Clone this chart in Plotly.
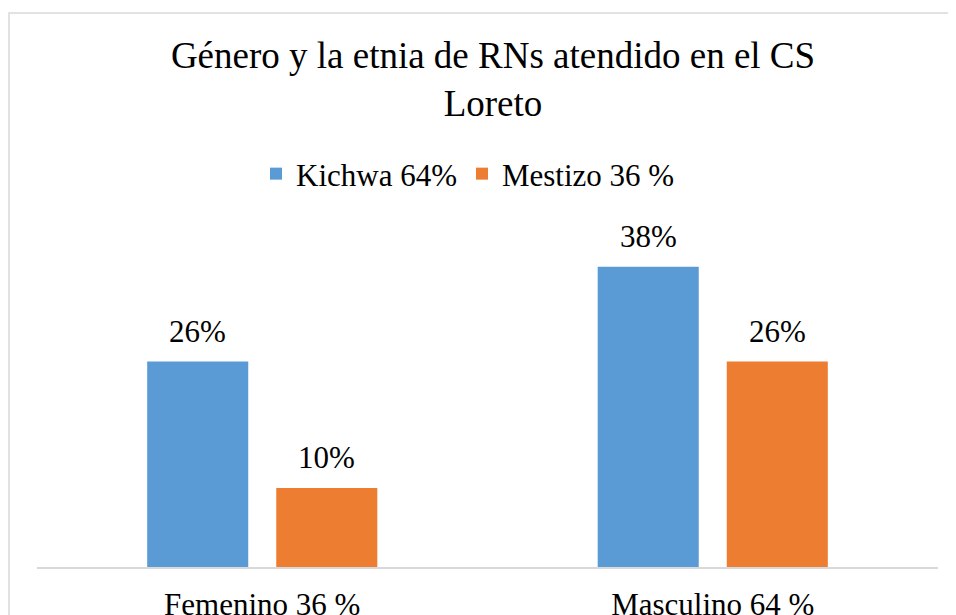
import plotly.graph_objects as go

categories = ["Femenino 36 %", "Masculino 64 %"]
series_names = ["Kichwa 64%", "Mestizo 36 %"]
kichwa = [26, 38]
mestizo = [10, 26]
colors = ["#5B9BD5", "#ED7D31"]

FONT = "Liberation Serif, Times New Roman, serif"
FS = 31

# page body has an 8px margin: work in figure coordinates
W, H = 948, 607
L, R, T, B = 29, 18, 243, 48
BARGAP, GROUPGAP = 0.427, 0.217

fig = go.Figure()
for name, vals, col in zip(series_names, [kichwa, mestizo], colors):
    fig.add_trace(go.Bar(
        x=categories, y=vals, name=name,
        marker=dict(color=col, line=dict(width=0)),
        cliponaxis=False,
    ))

# value labels above each bar, placed at the bar's data value
plot_w = W - L - R
cat_px = plot_w / len(categories)
slot_px = cat_px * (1 - BARGAP) / 2
for si, vals in enumerate([kichwa, mestizo]):
    shift = (si - 0.5) * slot_px
    for cat, v in zip(categories, vals):
        fig.add_annotation(
            x=cat, y=v, xref="x", yref="y", text=f"{v}%",
            showarrow=False, xanchor="center", yanchor="bottom",
            xshift=shift, yshift=11,
            font=dict(family=FONT, size=FS, color="#000000"),
        )

fig.update_layout(
    width=W, height=H,
    margin=dict(l=L, r=R, t=T, b=B, autoexpand=False),
    paper_bgcolor="white", plot_bgcolor="white",
    barmode="group", bargap=BARGAP, bargroupgap=GROUPGAP,
    font=dict(family=FONT, size=FS, color="#000000"),
    title=dict(
        text="Género y la etnia de RNs atendido en el CS<br>Loreto",
        x=485 / W, xanchor="center", xref="container",
        y=1 - 60 / H, yanchor="top", yref="container",
        font=dict(family=FONT, size=37, color="#000000"),
    ),
    legend=dict(
        orientation="h", x=460 / W, xanchor="center", xref="container",
        y=1 - 166 / H, yanchor="middle", yref="container",
        font=dict(family=FONT, size=FS, color="#000000"),
        bgcolor="rgba(0,0,0,0)",
    ),
    showlegend=True,
)

fig.update_xaxes(
    showline=True, linecolor="#d9d9d9", linewidth=1.5,
    showgrid=False, zeroline=False, ticks="",
    ticklabelstandoff=9, automargin=False,
    tickfont=dict(family=FONT, size=FS, color="#000000"),
)
fig.update_yaxes(range=[0, 40], visible=False, showgrid=False, zeroline=False,
                 automargin=False)

# outer chart border (extends beyond the visible crop)
fig.add_shape(
    type="rect", xref="paper", yref="paper",
    x0=(1 - L) / plot_w, x1=1.2,
    y0=-0.5, y1=(H - B - 5) / (H - B - T),
    line=dict(color="#d9d9d9", width=1.5), fillcolor="rgba(0,0,0,0)", layer="below",
)

fig.write_html("out.html")
